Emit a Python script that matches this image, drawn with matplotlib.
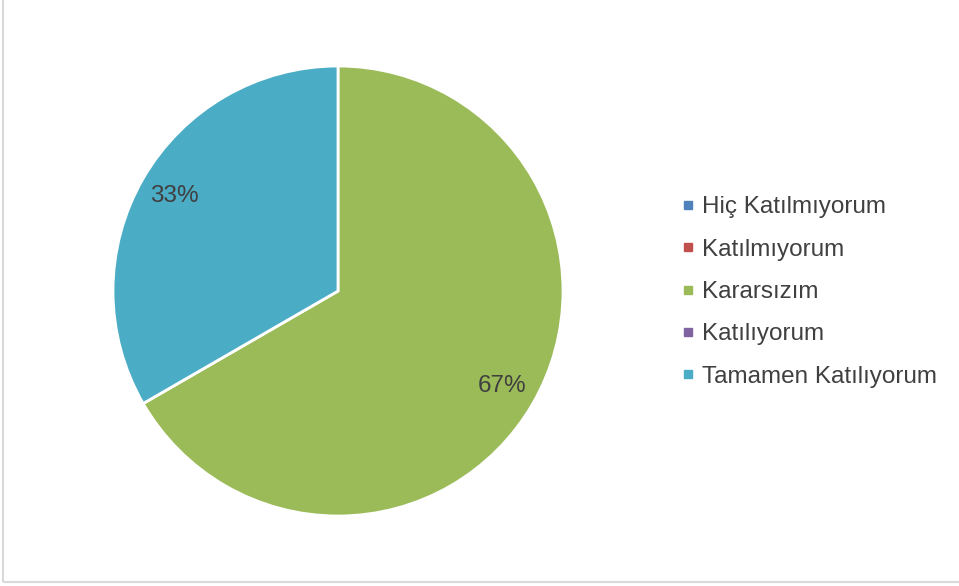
import matplotlib.pyplot as plt
from matplotlib.lines import Line2D
from matplotlib.patches import Rectangle

plt.rcParams['font.family'] = ['Liberation Sans', 'DejaVu Sans']

# data
categories = ["Hiç Katılmıyorum", "Katılmıyorum", "Kararsızım", "Katılıyorum", "Tamamen Katılıyorum"]
values = [0, 0, 2, 0, 1]
colors = ["#4F81BD", "#C0504D", "#9BBB59", "#8064A2", "#4BACC6"]
text_color = "#404040"

fig = plt.figure(figsize=(9.59, 5.86), dpi=100)

# chart border
fig.patches.append(Rectangle((3 / 959, 4 / 586), 1.0, 1.0, transform=fig.transFigure,
                             fill=False, edgecolor="#D9D9D9", linewidth=1.5))

cx, cy, r = 338, 291, 225
ax = fig.add_axes([(cx - r) / 959, (586 - cy - r) / 586, 2 * r / 959, 2 * r / 586])


def pct(p):
    return f"{p:.0f}%" if p > 0 else ""


wedges, texts, autotexts = ax.pie(values, colors=colors, startangle=90, counterclock=False,
                                  autopct=pct, pctdistance=0.84,
                                  wedgeprops=dict(edgecolor="white", linewidth=2),
                                  textprops=dict(color=text_color, fontsize=17.5))
ax.set_xlim(-1, 1)
ax.set_ylim(-1, 1)
ax.set_aspect("equal")

handles = [Line2D([], [], marker="s", linestyle="none", markersize=5.5,
                  markerfacecolor=c, markeredgecolor=c) for c in colors]
leg = fig.legend(handles, categories, loc="center left", bbox_to_anchor=(672 / 959, 1 - 292 / 586),
                 frameon=False, fontsize=17.5, labelcolor=text_color,
                 handlelength=0.5, handletextpad=0.35, labelspacing=0.84, borderaxespad=0)

fig.savefig("out.png", dpi=100)
